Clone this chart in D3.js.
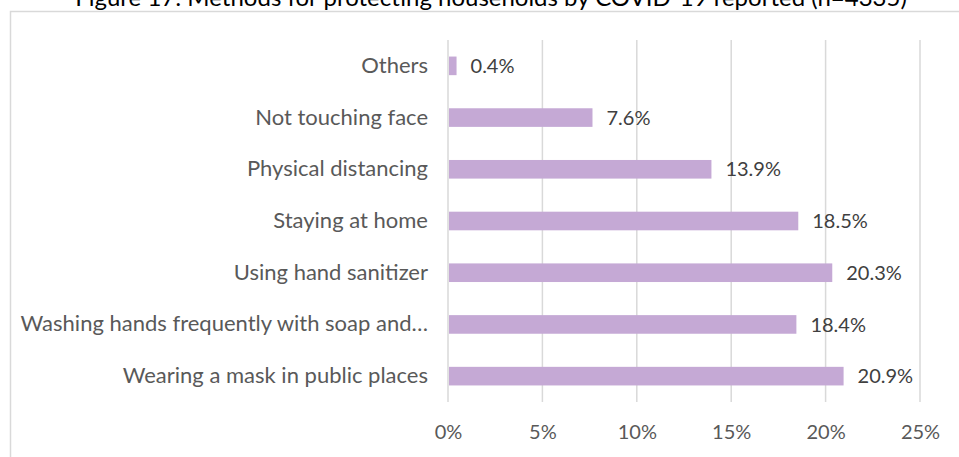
<!DOCTYPE html>
<html>
<head>
<meta charset="utf-8">
<script src="https://cdn.jsdelivr.net/npm/d3@7"></script>
<style>
  html, body { margin: 0; padding: 0; background: #fff; }
  svg { display: block; font-family: Lato, "Open Sans", sans-serif; }
</style>
</head>
<body>
<svg id="chart" width="959" height="457"></svg>
<script>
// Methods for protecting households, share of responses
const categories = [
  "Others",
  "Not touching face",
  "Physical distancing",
  "Staying at home",
  "Using hand sanitizer",
  "Washing hands frequently with soap and\u2026",
  "Wearing a mask in public places"
];
const values = [0.4, 7.6, 13.9, 18.5, 20.3, 18.4, 20.9];
const tickValues = [0, 5, 10, 15, 20, 25];
const title = "Figure 17: Methods for protecting households by COVID-19 reported (n=4335)";

const svg = d3.select("#chart");
const W = 959, H = 457;

// chart frame
svg.append("rect")
  .attr("x", 10.5).attr("y", 11.5)
  .attr("width", W + 10).attr("height", H + 10)
  .attr("fill", "#fff").attr("stroke", "#d9d9d9").attr("stroke-width", 1.5);

// title, partly above the visible area
svg.append("text")
  .attr("x", 491).attr("y", 6)
  .attr("text-anchor", "middle")
  .attr("font-size", 24)
  .attr("fill", "#000")
  .text(title);

const x = d3.scaleLinear().domain([0, 25]).range([448, 920]);
const y = d3.scaleBand().domain(categories).range([40, 402]).paddingInner(0.64).paddingOuter(0.32);

// vertical gridlines
svg.append("g")
  .selectAll("line")
  .data(tickValues)
  .join("line")
  .attr("x1", d => x(d)).attr("x2", d => x(d))
  .attr("y1", 40).attr("y2", 402)
  .attr("stroke", "#d9d9d9").attr("stroke-width", 1.5);

// bars
svg.append("g")
  .selectAll("rect")
  .data(values)
  .join("rect")
  .attr("x", x(0) + 1)
  .attr("y", (d, i) => y(categories[i]))
  .attr("width", d => x(d) - x(0))
  .attr("height", y.bandwidth())
  .attr("fill", "#c5a9d5");

// value labels
svg.append("g")
  .selectAll("text")
  .data(values)
  .join("text")
  .attr("x", d => x(d) + 15)
  .attr("y", (d, i) => y(categories[i]) + y.bandwidth() / 2)
  .attr("dy", "0.36em")
  .attr("font-size", 20)
  .attr("fill", "#404040")
  .text(d => d.toFixed(1) + "%");

// category axis
const yAxis = d3.axisLeft(y).tickSize(0).tickPadding(0);
const gy = svg.append("g").attr("transform", "translate(428,0)").call(yAxis);
gy.select(".domain").remove();
gy.selectAll("text")
  .attr("font-size", 22)
  .attr("font-family", "Lato, sans-serif")
  .attr("fill", "#595959");

// value axis
const xAxis = d3.axisBottom(x).tickValues(tickValues).tickSize(0).tickPadding(0)
  .tickFormat(d => d + "%");
const gx = svg.append("g").attr("transform", "translate(0,425)").call(xAxis);
gx.select(".domain").remove();
gx.selectAll("text")
  .attr("font-size", 20)
  .attr("font-family", "Lato, sans-serif")
  .attr("fill", "#595959");
</script>
</body>
</html>
